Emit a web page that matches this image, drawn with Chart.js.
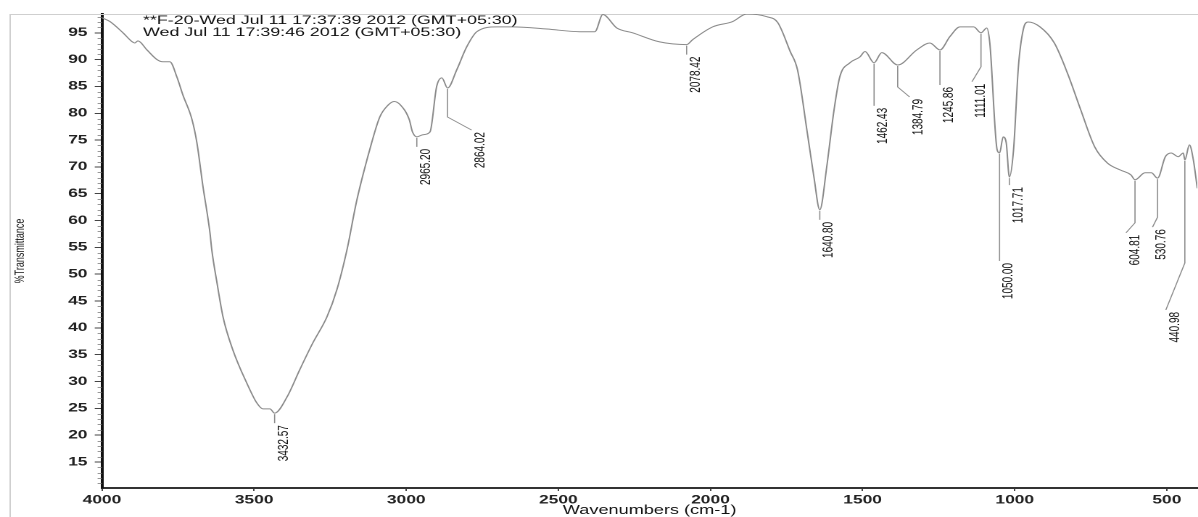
<!DOCTYPE html>
<html>
<head>
<meta charset="utf-8">
<title>FT-IR spectrum F-20</title>
<script src="https://cdn.jsdelivr.net/npm/chart.js@4.4.1/dist/chart.umd.min.js"></script>
<style>
  html, body { margin: 0; padding: 0; background: #fff; overflow: hidden; }
  /* the original printout is a widened scan: draw narrow, stretch sideways */
  #wrap { position: relative; width: 826px; height: 517px; transform: scaleX(1.4504); transform-origin: 0 0; }
</style>
</head>
<body>
<div id="wrap"><canvas id="ir"></canvas></div>
<script>
const wavenumbers = [
  4000, 3974, 3931, 3900, 3892, 3882, 3852, 3819, 3800, 3777, 3754, 3734, 3704, 3688, 3668,
  3645, 3639, 3622, 3602, 3570, 3524, 3491, 3471, 3448, 3432.57, 3392, 3350, 3307, 3261, 3228,
  3195, 3162, 3120, 3087, 3060, 3040, 3020, 2990, 2980, 2965.20, 2945, 2922, 2900, 2883, 2864.02,
  2834, 2801, 2768, 2702, 2650, 2538, 2430, 2380, 2354, 2308, 2256, 2167, 2078.42, 2059, 1993,
  1927, 1881, 1815, 1779, 1738, 1714, 1682, 1660, 1640.80, 1618, 1594, 1575, 1542, 1509, 1492,
  1462.43, 1437, 1384.79, 1322, 1279, 1245.86, 1213, 1180, 1135, 1111.01, 1092, 1082, 1058, 1050.00, 1038,
  1028, 1017.71, 1004, 988, 972, 957, 917, 870, 827, 783, 737, 695, 652, 618, 604.81,
  572, 551, 530.76, 505, 486, 463, 446, 440.98, 426, 413, 400
];
const transmittance = [
  97.8, 97.1, 95.0, 93.3, 93.1, 93.5, 91.8, 90.0, 89.6, 89.6, 86.8, 83.4, 78.8, 74.5, 66.3,
  57.7, 54.5, 48.4, 42.0, 35.9, 29.7, 26.0, 24.9, 24.9, 24.1, 27.1, 32.2, 37.2, 42.0, 47.1,
  54.5, 63.9, 73.2, 79.3, 81.5, 82.2, 81.6, 78.8, 76.6, 75.6, 76.0, 76.5, 85.0, 86.6, 84.7,
  88.1, 92.4, 95.2, 96.1, 96.1, 95.7, 95.2, 95.2, 98.4, 95.9, 95.0, 93.3, 92.8, 93.7, 96.1,
  97.1, 98.5, 98.0, 96.9, 91.5, 88.1, 76.4, 68.1, 62.0, 70.0, 80.6, 86.8, 89.4, 90.5, 91.5,
  89.4, 91.3, 89.0, 91.8, 93.1, 91.8, 94.3, 96.1, 96.1, 95.0, 95.9, 93.1, 73.2, 72.6, 75.6,
  74.5, 68.1, 73.2, 88.7, 95.6, 97.0, 96.1, 93.1, 87.5, 80.6, 73.7, 70.7, 69.4, 68.5, 67.6,
  68.9, 68.9, 67.9, 71.9, 72.6, 71.9, 72.6, 71.3, 74.1, 71.3, 66.0
];
const xTicks = [4000, 3500, 3000, 2500, 2000, 1500, 1000, 500];
const yTicks = [15, 20, 25, 30, 35, 40, 45, 50, 55, 60, 65, 70, 75, 80, 85, 90, 95];
const peaks = [3432.57, 2965.20, 2864.02, 2078.42, 1640.80, 1462.43, 1384.79, 1245.86,
  1111.01, 1050.00, 1017.71, 604.81, 530.76, 440.98];
const header = [
  '**F-20-Wed Jul 11 17:37:39 2012 (GMT+05:30)',
  'Wed Jul 11 17:39:46 2012 (GMT+05:30)'
];

const SX = 1198 / 826;
const FONT = '"Liberation Sans", Arial, sans-serif';

// leader line for each peak label, screen px: straight drop, then slanted part
const leaders = [
  [10, 0, 0], [10, 0, 0], [29, 24, 13], [10, 0, 0], [10, 0, 0], [43, 0, 0], [22, 12, 10],
  [35, 0, 0], [34, -9, 15], [108, 0, 0], [8, 0, 0], [43, -9, 10], [39, -5, 10], [103, -19, 47]
];

function valueAt(w) {
  for (let i = 0; i < wavenumbers.length - 1; i++) {
    const a = wavenumbers[i], b = wavenumbers[i + 1];
    if (w <= a && w >= b) {
      return transmittance[i] + (transmittance[i + 1] - transmittance[i]) * (w - a) / (b - a);
    }
  }
  return transmittance[transmittance.length - 1];
}

const decorations = {
  id: 'decorations',
  beforeDatasetsDraw(chart) {
    const { ctx, chartArea: a } = chart;
    ctx.save();
    ctx.strokeStyle = '#cfcfcf';
    ctx.lineWidth = 1;
    ctx.beginPath();
    ctx.moveTo(7, chart.height);
    ctx.lineTo(7, a.top + 0.5);
    ctx.lineTo(chart.width, a.top + 0.5);
    ctx.stroke();
    ctx.restore();
  },
  afterDraw(chart) {
    const { ctx, chartArea: a, scales: { x, y } } = chart;
    ctx.save();

    // minor ticks on the y axis
    ctx.strokeStyle = '#777';
    ctx.lineWidth = 0.8;
    ctx.beginPath();
    for (let v = 11; v <= 98; v++) {
      if (v % 5 === 0) continue;
      const py = Math.round(y.getPixelForValue(v)) + 0.5;
      ctx.moveTo(a.left - 3, py);
      ctx.lineTo(a.left, py);
    }
    ctx.stroke();

    // header lines
    ctx.fillStyle = '#111';
    ctx.font = '12.3px ' + FONT;
    ctx.textBaseline = 'alphabetic';
    ctx.textAlign = 'left';
    header.forEach((t, i) => ctx.fillText(t, 98.6, 24 + i * 12));

    // peak labels with their leader lines
    ctx.font = '10px ' + FONT;
    peaks.forEach((w, i) => {
      const [drop, dx, dy] = leaders[i];
      const px = x.getPixelForValue(w);
      const py = y.getPixelForValue(valueAt(w));
      const ex = px + dx / SX;
      const ey = py + drop + dy;
      ctx.strokeStyle = '#8c8c8c';
      ctx.lineWidth = 0.8;
      ctx.beginPath();
      ctx.moveTo(px, py + 1);
      ctx.lineTo(px, py + drop);
      if (dx || dy) ctx.lineTo(ex, ey);
      ctx.stroke();

      ctx.save();
      ctx.translate(ex + 9 / SX, ey + 2);
      ctx.rotate(-Math.PI / 2);
      ctx.fillStyle = '#111';
      ctx.textAlign = 'right';
      ctx.textBaseline = 'middle';
      ctx.fillText(w.toFixed(2), 0, 0);
      ctx.restore();
    });

    ctx.restore();
  }
};

new Chart(document.getElementById('ir'), {
  type: 'line',
  data: {
    datasets: [{
      data: wavenumbers.map((w, i) => ({ x: w, y: transmittance[i] })),
      borderColor: '#8a8a8a',
      borderWidth: 1,
      pointRadius: 0,
      cubicInterpolationMode: 'monotone',
      fill: false
    }]
  },
  options: {
    responsive: true,
    maintainAspectRatio: false,
    animation: false,
    devicePixelRatio: 2,
    layout: { padding: { top: 14, right: 0, left: 0, bottom: 0 } },
    plugins: { legend: { display: false }, tooltip: { enabled: false } },
    scales: {
      x: {
        type: 'linear',
        reverse: true,
        min: 400,
        max: 4000,
        afterBuildTicks: s => { s.ticks = xTicks.map(v => ({ value: v })); },
        afterFit: s => { s.height = 29; },
        border: { color: '#333', width: 2 },
        grid: { drawOnChartArea: false, tickLength: 3, color: '#444' },
        ticks: {
          padding: 2,
          color: '#222',
          maxRotation: 0,
          callback: v => String(v),
          font: { family: FONT, size: 12, weight: 'bold' }
        },
        title: {
          display: true,
          text: 'Wavenumbers (cm-1)',
          color: '#111',
          font: { family: FONT, size: 12.5, lineHeight: 1 },
          padding: { top: 0, bottom: 0 }
        }
      },
      y: {
        min: 10.15,
        max: 98.5,
        afterBuildTicks: s => { s.ticks = yTicks.map(v => ({ value: v })); },
        afterFit: s => { s.width = 70.3; },
        border: { color: '#111', width: 2 },
        grid: { drawOnChartArea: false, tickLength: 5, color: '#444' },
        ticks: {
          padding: 5,
          color: '#222',
          callback: v => String(v),
          font: { family: FONT, size: 12, weight: 'bold' }
        },
        title: {
          display: true,
          text: '%Transmittance',
          color: '#111',
          font: { family: FONT, size: 9, lineHeight: 1.2 },
          padding: { top: 8.4, bottom: 0 }
        }
      }
    }
  },
  plugins: [decorations]
});
</script>
</body>
</html>
